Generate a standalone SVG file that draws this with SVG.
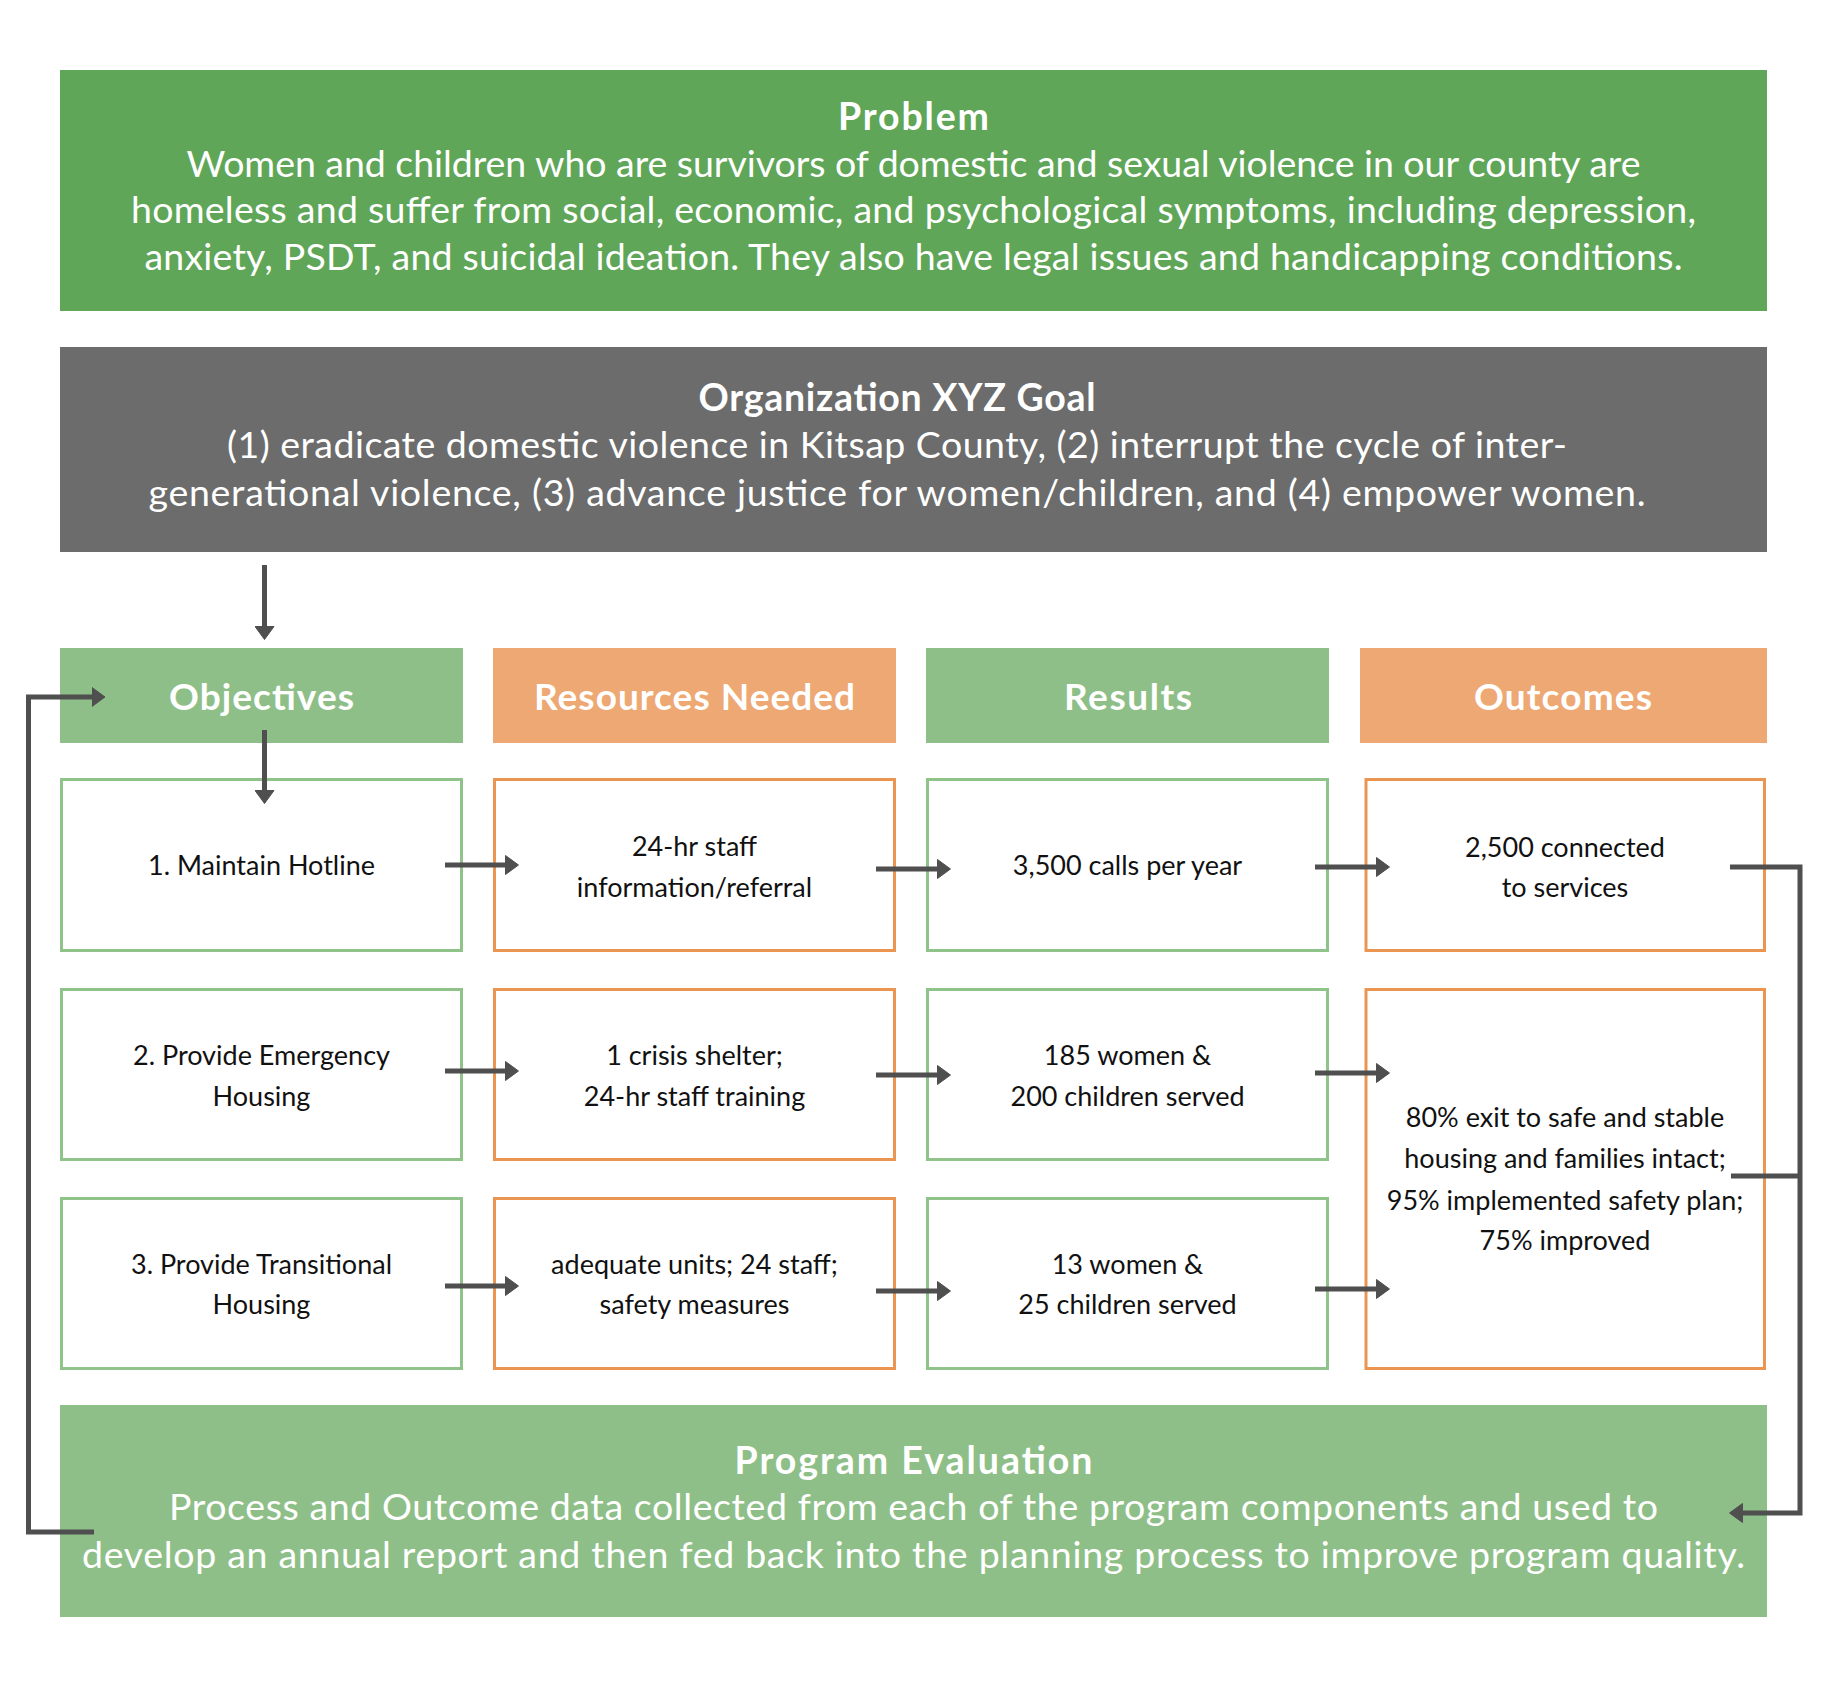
<svg xmlns="http://www.w3.org/2000/svg" width="1827" height="1700" viewBox="0 0 1827 1700">
<style>
.t{font-family:Lato,"Liberation Sans",sans-serif;text-anchor:middle}
.w{fill:#ffffff}
.b{font-weight:bold}
.big{font-size:37.5px}
.hd{font-size:37px;font-weight:bold;fill:#ffffff}
.bx{font-size:27px;fill:#111111}
.gb{fill:#ffffff;stroke:#8fc389;stroke-width:3}
.ob{fill:#ffffff;stroke:#eb9552;stroke-width:3}
.ln{fill:none;stroke:#4f4f4f;stroke-width:5}
</style>
<defs>
<marker id="ah" markerUnits="userSpaceOnUse" viewBox="0 0 14 20" markerWidth="14" markerHeight="20" refX="5" refY="10" orient="auto">
<path d="M0.5,0.5 L13.5,10 L0.5,19.5 Z" fill="#4f4f4f" stroke="#4f4f4f" stroke-width="1" stroke-linejoin="round"/>
</marker>
</defs>
<rect width="1827" height="1700" fill="#ffffff"/>

<g id="problem">
<rect x="60" y="70" width="1707" height="241" fill="#5fa658"/>
<text class="t w b big" x="913.5" y="130" textLength="151">Problem</text>
<text class="t w big" x="913.5" y="177" textLength="1454">Women and children who are survivors of domestic and sexual violence in our county are</text>
<text class="t w big" x="913.5" y="223" textLength="1565">homeless and suffer from social, economic, and psychological symptoms, including depression,</text>
<text class="t w big" x="913.5" y="270" textLength="1538">anxiety, PSDT, and suicidal ideation. They also have legal issues and handicapping conditions.</text>
</g>

<g id="goal">
<rect x="60" y="347" width="1707" height="205" fill="#6b6c6b"/>
<text class="t w b big" x="897" y="411" textLength="397">Organization XYZ Goal</text>
<text class="t w big" x="897" y="458" textLength="1340">(1) eradicate domestic violence in Kitsap County, (2) interrupt the cycle of inter-</text>
<text class="t w big" x="897" y="506" textLength="1497">generational violence, (3) advance justice for women/children, and (4) empower women.</text>
</g>

<g id="h-objectives">
<rect x="60" y="648" width="403" height="95" fill="#8fbf88"/>
<text class="t hd" x="261.5" y="710" textLength="185">Objectives</text>
</g>
<g id="h-resources">
<rect x="493" y="648" width="403" height="95" fill="#eea874"/>
<text class="t hd" x="694.5" y="710" textLength="321">Resources Needed</text>
</g>
<g id="h-results">
<rect x="926" y="648" width="403" height="95" fill="#8fbf88"/>
<text class="t hd" x="1128" y="710" textLength="128">Results</text>
</g>
<g id="h-outcomes">
<rect x="1360" y="648" width="407" height="95" fill="#eea874"/>
<text class="t hd" x="1563" y="710" textLength="178">Outcomes</text>
</g>

<g id="obj1">
<rect class="gb" x="61.5" y="779.5" width="400" height="171"/>
<text class="t bx" x="261.5" y="875">1. Maintain Hotline</text>
</g>
<g id="obj2">
<rect class="gb" x="61.5" y="989.5" width="400" height="170"/>
<text class="t bx" x="261.5" y="1065">2. Provide Emergency</text>
<text class="t bx" x="261.5" y="1106">Housing</text>
</g>
<g id="obj3">
<rect class="gb" x="61.5" y="1198.5" width="400" height="170"/>
<text class="t bx" x="261.5" y="1274">3. Provide Transitional</text>
<text class="t bx" x="261.5" y="1314">Housing</text>
</g>

<g id="res1">
<rect class="ob" x="494.5" y="779.5" width="400" height="171"/>
<text class="t bx" x="694.5" y="856">24-hr staff</text>
<text class="t bx" x="694.5" y="897">information/referral</text>
</g>
<g id="res2">
<rect class="ob" x="494.5" y="989.5" width="400" height="170"/>
<text class="t bx" x="694.5" y="1065">1 crisis shelter;</text>
<text class="t bx" x="694.5" y="1106">24-hr staff training</text>
</g>
<g id="res3">
<rect class="ob" x="494.5" y="1198.5" width="400" height="170"/>
<text class="t bx" x="694.5" y="1274">adequate units; 24 staff;</text>
<text class="t bx" x="694.5" y="1314">safety measures</text>
</g>

<g id="rslt1">
<rect class="gb" x="927.5" y="779.5" width="400" height="171"/>
<text class="t bx" x="1127.5" y="875">3,500 calls per year</text>
</g>
<g id="rslt2">
<rect class="gb" x="927.5" y="989.5" width="400" height="170"/>
<text class="t bx" x="1127.5" y="1065">185 women &amp;</text>
<text class="t bx" x="1127.5" y="1106">200 children served</text>
</g>
<g id="rslt3">
<rect class="gb" x="927.5" y="1198.5" width="400" height="170"/>
<text class="t bx" x="1127.5" y="1274">13 women &amp;</text>
<text class="t bx" x="1127.5" y="1314">25 children served</text>
</g>

<g id="out1">
<rect class="ob" x="1366" y="779.5" width="398.5" height="171"/>
<text class="t bx" x="1565" y="857">2,500 connected</text>
<text class="t bx" x="1565" y="897">to services</text>
</g>
<g id="out2">
<rect class="ob" x="1366" y="989.5" width="398.5" height="379"/>
<text class="t bx" x="1565" y="1127">80% exit to safe and stable</text>
<text class="t bx" x="1565" y="1168">housing and families intact;</text>
<text class="t bx" x="1565" y="1210">95% implemented safety plan;</text>
<text class="t bx" x="1565" y="1250">75% improved</text>
</g>

<g id="evaluation">
<rect x="60" y="1405" width="1707" height="212" fill="#8fbf88"/>
<text class="t w b big" x="913.5" y="1474" textLength="358">Program Evaluation</text>
<text class="t w big" x="913.5" y="1520" textLength="1489">Process and Outcome data collected from each of the program components and used to</text>
<text class="t w big" x="913.5" y="1568" textLength="1663">develop an annual report and then fed back into the planning process to improve program quality.</text>
</g>

<g id="connectors">
<line class="ln" x1="264.5" y1="565" x2="264.5" y2="631" marker-end="url(#ah)"/>
<line class="ln" x1="264.5" y1="730" x2="264.5" y2="795" marker-end="url(#ah)"/>

<line class="ln" x1="445" y1="865" x2="510" y2="865" marker-end="url(#ah)"/>
<line class="ln" x1="876" y1="869" x2="942" y2="869" marker-end="url(#ah)"/>
<line class="ln" x1="1315" y1="867" x2="1381" y2="867" marker-end="url(#ah)"/>

<line class="ln" x1="445" y1="1071" x2="510" y2="1071" marker-end="url(#ah)"/>
<line class="ln" x1="876" y1="1075" x2="942" y2="1075" marker-end="url(#ah)"/>
<line class="ln" x1="1315" y1="1073" x2="1381" y2="1073" marker-end="url(#ah)"/>

<line class="ln" x1="445" y1="1286" x2="510" y2="1286" marker-end="url(#ah)"/>
<line class="ln" x1="876" y1="1291" x2="942" y2="1291" marker-end="url(#ah)"/>
<line class="ln" x1="1315" y1="1289" x2="1381" y2="1289" marker-end="url(#ah)"/>

<polyline class="ln" points="1730,867 1800,867 1800,1513 1738,1513" marker-end="url(#ah)"/>
<line class="ln" x1="1731" y1="1176" x2="1800" y2="1176"/>

<polyline class="ln" points="94,1532 28.5,1532 28.5,697 96.5,697" marker-end="url(#ah)"/>
</g>
</svg>
